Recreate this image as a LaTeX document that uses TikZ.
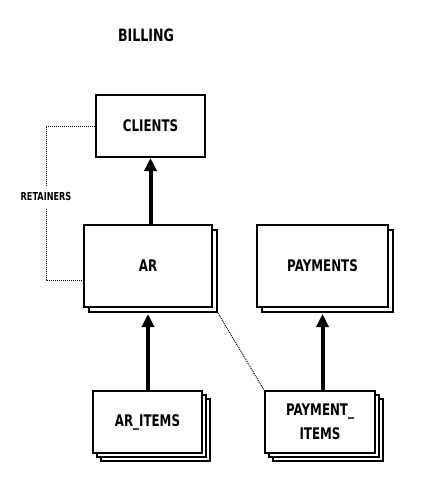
\documentclass[tikz,border=0pt]{standalone}
\usepackage{fontspec}
\newfontfamily\diagfont{DejaVu Sans}[FakeStretch=0.74]
\usetikzlibrary{arrows.meta,shadows}

\newcommand\boxfont{\diagfont\bfseries\fontsize{16}{24}\selectfont}
\newcommand\titlefont{\diagfont\bfseries\fontsize{17}{20}\selectfont}
\newcommand\smallfont{\diagfont\bfseries\fontsize{11}{13}\selectfont}

\tikzset{
    entity/.style={draw,line width=2pt,fill=white,inner sep=0pt,align=center,font=\boxfont},
    stack2/.style={entity,copy shadow={shadow xshift=5pt,shadow yshift=-5pt}},
    stack3/.style={entity,copy shadow={shadow xshift=8pt,shadow yshift=-8pt},
                   copy shadow={shadow xshift=4pt,shadow yshift=-4pt}},
    link/.style={line width=4pt,->},
    assoc/.style={line width=1pt,dash pattern=on 1pt off 1pt},
}

\begin{document}
\begin{tikzpicture}[x=1pt,y=-1pt,>={Triangle[length=13pt,width=12pt]}]
    \useasboundingbox (0,0) rectangle (426,500);
    \node[font=\titlefont] (billing) at (146,35) {BILLING};
    % tables
    \node[entity,minimum width=109pt,minimum height=62pt] (clients) at (150.5,126) {CLIENTS};
    \node[stack2,minimum width=128pt,minimum height=82pt] (ar) at (148,266) {AR};
    \node[stack2,minimum width=131pt,minimum height=82pt] (payments) at (322.5,266) {PAYMENTS};
    \node[stack3,minimum width=109pt,minimum height=62pt] (aritems) at (147.5,422) {AR\_ITEMS};
    \node[stack3,minimum width=110pt,minimum height=62pt] (paymentitems) at (320,422) {PAYMENT\_\\ITEMS};
    % relations
    \draw[link] (ar.north -| clients) -- (clients);
    \draw[link] (aritems.north -| ar) -- ([yshift=-6pt]ar.south);
    \draw[link] (paymentitems.north -| payments) -- ([yshift=-6pt]payments.south);
    \draw[assoc] ([xshift=5pt,yshift=-5pt]ar.south east) -- (paymentitems.north west);
    \draw[assoc] (clients.west) -- ++(-49,0) |- node[pos=0.23,fill=white,font=\smallfont,inner xsep=1pt,inner ysep=7pt] {RETAINERS} ([yshift=-14pt]ar.west);
\end{tikzpicture}
\end{document}
